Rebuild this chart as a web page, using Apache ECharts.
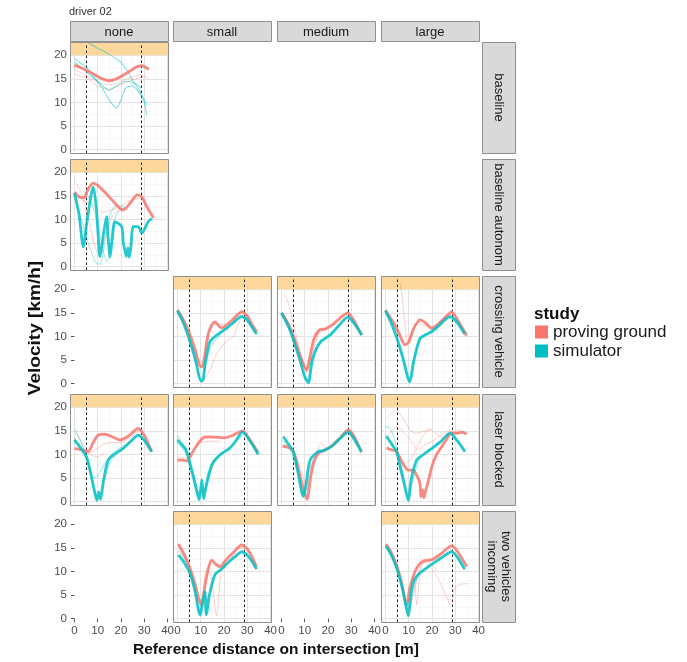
<!DOCTYPE html>
<html>
<head>
<meta charset="utf-8">
<script src="https://cdn.jsdelivr.net/npm/echarts@6/dist/echarts.min.js"></script>
<style>
  html, body { margin: 0; padding: 0; background: #fff; }
  #chart { width: 687px; height: 662px; }
</style>
</head>
<body>
<div id="chart"></div>
<script>
// Facet labels
const colLabels = ['none', 'small', 'medium', 'large'];
const rowLabels = ['baseline', 'baseline autonomous', 'crossing vehicle', 'laser blocked', 'two vehicles\nincoming'];

// Axis breaks
const xMajor = [0, 10, 20, 30, 40];
const xMinor = [5, 15, 25, 35];
const yMajor = [0, 5, 10, 15, 20];
const yMinor = [2.5, 7.5, 12.5, 17.5];
const sectionMarks = [5, 28.5];   // dashed reference positions [m]
const bandFrom = 20;              // highlighted speed band [km/h]

// none / baseline
const nb_pg = [[0,17.9],[3,17.3],[6,16.6],[9,15.8],[12,15.0],[15,14.6],[18,15.0],[21,15.8],[24,16.7],[27,17.6],[29,17.8],[31,17.3],[32,17.0]];
const nb_pg_r1 = [[0,17.0],[4,16.0],[8,14.8],[12,14.0],[16,13.8],[20,14.5],[24,15.2],[28,15.8],[32,15.0]];
const nb_pg_r2 = [[0,16.0],[5,15.2],[10,13.5],[15,12.8],[20,13.8],[25,14.8],[30,15.5]];
const nb_sim_r1 = [[0,19.4],[3,18.2],[6,17.0],[9,15.0],[12,13.0],[15,10.5],[18,8.8],[20,10.5],[22,13.1],[25,13.5],[28,12.0],[30,10.0],[31,7.3]];
const nb_sim_r2 = [[6,22.6],[10,21.5],[14,20.5],[18,19.2],[20,18.5],[23,16.5],[25,14.7],[28,12.5],[30,10.5],[31,9.5]];
const nb_sim_r3 = [[0,18.6],[5,16.5],[10,14.5],[15,12.6],[18,13.5],[22,14.5],[26,14.0],[29,13.0]];

// none / baseline autonomous
const nba_pg = [[0,15.8],[2,14.8],[4,14.6],[6,16.5],[8,17.7],[10,17.2],[13,15.8],[16,14.2],[19,12.6],[21,12.0],[24,13.5],[27,15.2],[29,14.8],[31,12.8],[34,10.3]];
const nba_pg_r1 = [[0,18.3],[3,15.5],[6,10],[9,4],[11,2],[13,6],[16,10.5],[19,12],[22,12.5]];
const nba_pg_r2 = [[0,15],[4,14],[8,13],[12,11.5],[16,12],[20,12.8],[24,14],[28,14.5],[31,12.5],[34,10.5]];
const nba_sim = [[0,15.6],[2,11],[3.8,4.2],[5.5,10],[8.1,16.9],[9.5,12],[11,2.1],[12.5,7],[13.8,10.6],[14.5,6],[15.3,2.1],[16.3,6],[17.4,9.5],[20.3,8.5],[21,5],[21.7,3.5],[22.3,2.2],[23,4],[23.6,2.0],[24.2,4],[25.3,8.5],[27.4,8.5],[28.9,7.1],[31.7,9.5],[33.2,10.2]];
const nba_sim_r1 = [[0,15],[3,10],[6,5],[9,1],[11,0.5],[13,5],[15,10.5],[17,12.5],[20,13],[23,12]];
const nba_sim_r2 = [[4,16],[7,14],[10,9],[12,4],[14,1],[16,7],[18,11],[21,12.5]];

// small / crossing vehicle
const scv_pg = [[0,15.6],[2,14],[4,12],[6,9.5],[8,6.5],[10,3.6],[11,3.8],[12,7],[13.5,11],[16,13.1],[19,11.8],[22,12.8],[25,14.2],[27.5,15.2],[30,14.3],[32,12.5],[34,11.0]];
const scv_pg_r1 = [[0,15.2],[4,11],[8,5],[10,1],[12,1.5],[14,2.9],[17,6.5],[21,8.9],[24,10],[27,13.5],[30,14.5],[33,12],[35,10.8]];
const scv_pg_r2 = [[0,15.8],[3,13.5],[6,10],[9,5],[11,4.5],[13,10],[16,12.8],[20,12.5],[24,13.8],[28,15.5],[31,13.5],[34,11.2]];
const scv_sim = [[0,15.4],[2,13.5],[4,11],[6,8],[8,4.5],[10,0.6],[11,0.8],[12,4.5],[14,8.9],[17,10.3],[21,11.7],[24,12.9],[27.5,14.2],[30,13.5],[32,12],[34,10.5]];
const scv_sim_r1 = [[0,15],[3,12.5],[6,8.5],[9,2.5],[10.5,0.2],[12,3.5],[14,7.5],[18,10.2],[22,12],[27,14.5],[31,12.8],[34,10.3]];

// medium / crossing vehicle
const mcv_pg = [[0,15.0],[2,13.5],[4,11.5],[6,9],[8,6],[10.8,2.9],[12,5],[14,9.5],[16.4,11.4],[19,11.6],[22,12.5],[25,13.8],[28.5,15],[31,13.5],[34.5,10.3]];
const mcv_pg_r1 = [[1,19],[3,17],[5,13],[7,9],[9,5],[11,2.5],[13,5.5],[16,10.5],[20,12]];
const mcv_pg_r2 = [[0,14.5],[4,11],[8,6],[10.5,3],[13,8],[16,11],[20,11.8],[25,13.5],[29,15],[33,11.5]];
const mcv_sim = [[0,15],[2,13.2],[4,11],[6,8],[8,5],[10,1.5],[11.6,0.2],[13,4.5],[14.7,7.1],[17,9],[21,10.3],[25,12.5],[28.5,14.1],[31,13],[34.5,10.3]];
const mcv_sim_r1 = [[0,14.8],[4,10.5],[8,4.5],[11,0.3],[13,3],[15,7],[19,9.8],[24,12],[28,14],[32,12],[34,10.5]];

// large / crossing vehicle
const lcv_pg = [[0,15.6],[2,14],[4,12.5],[6,10.5],[8.4,8.2],[10,8.8],[12,11.5],[14.8,13.5],[17,13],[19.9,11.7],[23,12.8],[26,14.2],[28.4,15.2],[31,13.5],[34.9,10.2]];
const lcv_pg_r1 = [[6.3,21.3],[7.5,17],[8.5,12],[9.5,9],[11,10.5],[13,12.8]];
const lcv_pg_r2 = [[0,15.2],[3,13],[6,10],[8.5,8],[11,10],[14,13],[18,12],[22,12.5],[26,14],[29,15],[32,12.5],[35,10]];
const lcv_sim = [[0,15.4],[2,13.5],[4,11],[6,8],[8,4.5],[9.5,1.5],[10.5,0.4],[12,4.5],[14.8,9.6],[17,10.3],[19.9,11],[23,12.3],[27.7,14.2],[30.5,13.2],[34,10.6]];
const lcv_sim_r1 = [[0,15],[4,10.5],[7,6],[9,2],[10.5,0.2],[12,3],[14,8.5],[18,10.5],[22,12],[27,14],[31,12.5],[34,10.2]];

// none / laser blocked
const nlb_pg = [[0,11.3],[3,11],[5.9,10.6],[8,12.5],[10.2,14.1],[13,14.3],[16,13.8],[19.6,13.1],[23,13.8],[27.4,15.5],[30,14],[33.2,10.6]];
const nlb_pg_r1 = [[0,12.5],[3,12],[6,10.2],[9,11],[12,12],[16,12.5],[20,12.5],[24,13.5],[28,15],[31,13.2],[33,11]];
const nlb_pg_r2 = [[0,14.8],[2,13.5],[4,12],[7,10],[10,9.5],[13,10.5]];
const nlb_sim = [[0,13.1],[2.5,11.5],[5.2,9.5],[7,6],[8.5,2.5],[9.6,0.3],[10.5,2],[11.2,0.5],[12.5,4.5],[14.5,8.8],[17,10],[21,11.3],[24,12.7],[27.4,14.1],[30,13],[33.2,10.6]];
const nlb_sim_r1 = [[0,15.5],[2,13.5],[4.5,10.5],[7,5.5],[9,1.5],[11,1],[13,5],[16,9],[20,10.8],[25,13],[28,14],[31,12.5],[33,10.5]];
const nlb_sim_r2 = [[0,13.5],[3,11],[6,8],[8,5],[10,5.5],[13,8],[17,10.5],[22,12]];

// small / laser blocked
const slb_pg = [[0,8.8],[2,8.8],[4.1,8.6],[6,10],[8.4,12],[10,13],[11.8,13.7],[15,13.7],[20,13.5],[24,14.1],[28,15],[31,13.2],[34.7,10.4]];
const slb_pg_r1 = [[0,9.5],[4,9.2],[7,10.8],[10,12.5],[14,12.8],[18,12.8]];
const slb_sim = [[0,13.1],[2,12],[3.7,11],[6,7],[8,3],[9.3,0.4],[10.5,4.6],[11.3,0.6],[12,2.5],[14.8,7.8],[18,9.8],[22.6,11.4],[25,12.8],[28,14.8],[31,13],[34.7,10]];
const slb_sim_r1 = [[0,14],[3,11.5],[6,6],[8.5,1.5],[10,0.5],[12,3],[14,6.5],[17,9.2],[21,10.8],[26,13.2],[29,14.3],[32,12.2],[34.5,10.2]];
const slb_sim_r2 = [[0,12.5],[4,10],[7,5.5],[9,2],[11,1],[13,6],[16,9],[20,10.5]];

// medium / laser blocked
const mlb_pg = [[0.5,11.7],[3,11.5],[5,10.8],[7,7.5],[9,3.5],[11,0.5],[12.5,5],[14,8.5],[16,10.3],[19,11],[22,12],[25,13.4],[28.7,15.2],[31,14],[34.4,10.5]];
const mlb_pg_r1 = [[0,12],[3,11.8],[6,10],[9,6],[11,2.5],[13,7.5],[15.5,11],[17.3,12.4],[19.5,11.2],[23,12.2],[27,14.2],[30,14.5],[33,11.5]];
const mlb_sim = [[0.8,13.8],[3,12.2],[5.1,10.6],[7,6.5],[9.4,1.1],[10.5,3.5],[12.3,8.8],[15.8,10.6],[18,10.8],[21.6,11.7],[25,13.3],[28.7,14.8],[31,13.5],[34.4,10.6]];
const mlb_sim_r1 = [[0,13.2],[4,10.8],[7,6],[9,2],[10.5,1.5],[12,6.5],[15,9.8],[20,11.2],[25,13.2],[28.5,14.5],[32,12.2],[34,10.3]];

// large / laser blocked
const llb_pg = [[0.5,11.4],[2.5,11],[4.8,10.6],[7,8.5],[9.8,6.7],[12,6.7],[13.5,5.5],[14.8,3.9],[15.3,1],[16,2.5],[16.5,0.8],[17,1.8],[18.5,4.5],[20,7.5],[21.9,9.9],[24,11.5],[26,13],[28.4,14.5],[31,14.5],[33,14.7],[34.9,14.3]];
const llb_pg_r1 = [[0.5,17.5],[2,18.5],[4.8,19.4],[7,18],[9,16.5],[11,15],[13,14.5],[16,14.8],[19,15.3],[22,14.2],[25,13.5],[28.5,14.5],[31,15.2],[34,14.6]];
const llb_pg_r2 = [[0,13.5],[3,15],[5,16],[8,14.5],[11,13],[14,11],[17,12],[21,13],[25,14.4],[28,15],[31,14]];
const llb_pg_r3 = [[5,11],[8,8],[11,9],[14,12],[17,14.5],[20,15.5]];
const llb_sim = [[0.5,13.8],[2.5,12.3],[4.8,10.6],[6.5,7],[8.2,3.5],[9.8,0.3],[11,4.5],[13.4,8.8],[17,10.2],[20,11.3],[23.5,12.6],[27.7,14.5],[31,12.8],[34.2,10.6]];
const llb_sim_r1 = [[0,14.2],[3,12.2],[6,8],[8,4.5],[10,1],[12,5],[15,9.5],[20,11.5],[25,13.3],[28,14.5],[31,12.7],[34,10.5]];
const llb_sim_r2 = [[0,16],[2,15.5],[4,13],[6,9],[8,5]];

// small / two vehicles incoming
const stv_pg = [[0.4,15.8],[3,13.5],[5.4,10.7],[7.5,7.5],[9,4.5],[10.4,2.9],[12,7.5],[13.5,11],[14.7,12.4],[16.5,11.5],[18.3,11],[21,12.5],[24,14],[27.6,15.6],[30.5,14.5],[34,11]];
const stv_pg_r1 = [[0.5,15],[4,12],[7,8],[9.5,3],[11,6],[12.5,10.5],[14.5,9],[15.5,5],[16.8,0.6],[17.8,5],[19,10.5],[22,12],[27,15],[31,13.8],[34,11.2]];
const stv_sim = [[0.4,13.5],[3,11.8],[5.5,9.5],[7.5,6],[9.7,0.8],[10.8,3.5],[11.8,5.7],[12.4,0.8],[13.5,4.5],[16.1,9.3],[19,10.5],[22,12],[25,13.2],[27.6,14.2],[30.5,13.2],[34,10.5]];
const stv_sim_r1 = [[0.5,14.5],[3.5,12],[6,8.5],[8.5,3.5],[10,0.5],[11.5,3],[13,1],[14.5,6.5],[17,9.8],[21,11.5],[27,14],[31,12.8],[34,10.5]];

// large / two vehicles incoming
const ltv_pg = [[0.25,15.8],[2.5,14],[5,11],[7,7.5],[9.1,2.9],[10.5,6.5],[12.7,10],[14.5,11.5],[16.3,12.2],[20,12.5],[24,13.8],[28.4,15.4],[31,14.2],[34.9,11]];
const ltv_pg_r1 = [[9,2],[10.5,5],[12,9],[13.5,3],[14.5,8],[16.3,12.2],[19,11],[22,9],[25,6],[28,3],[29.9,6.5],[32,7.2],[34.9,7.4]];
const ltv_pg_r2 = [[11,3],[13,7],[15,11],[17.5,12],[20,11.5],[22,10]];
const ltv_sim = [[0.25,15.4],[2.5,13.5],[5,10.5],[7,7],[8.5,3.5],[9.8,0.6],[10.8,4.5],[11.9,7.6],[14,9.3],[18.4,11],[22,12.2],[25,13.2],[28.4,14.2],[31,13],[34,10.5]];
const ltv_sim_r1 = [[0.5,15],[3,13],[6,9],[8.5,3],[10,0.3],[11.5,5],[14,9],[18,10.8],[24,13],[28,14],[31,12.7],[34,10.3]];

// Which facet holds which traces: [row, col, proving-ground mean, simulator mean, pg runs, sim runs]
const panels = [
  [0, 0, nb_pg,  null,    [nb_pg_r1, nb_pg_r2], [nb_sim_r1, nb_sim_r2, nb_sim_r3]],
  [1, 0, nba_pg, nba_sim, [nba_pg_r1, nba_pg_r2], [nba_sim_r1, nba_sim_r2]],
  [2, 1, scv_pg, scv_sim, [scv_pg_r1, scv_pg_r2], [scv_sim_r1]],
  [2, 2, mcv_pg, mcv_sim, [mcv_pg_r1, mcv_pg_r2], [mcv_sim_r1]],
  [2, 3, lcv_pg, lcv_sim, [lcv_pg_r1, lcv_pg_r2], [lcv_sim_r1]],
  [3, 0, nlb_pg, nlb_sim, [nlb_pg_r1, nlb_pg_r2], [nlb_sim_r1, nlb_sim_r2]],
  [3, 1, slb_pg, slb_sim, [slb_pg_r1], [slb_sim_r1, slb_sim_r2]],
  [3, 2, mlb_pg, mlb_sim, [mlb_pg_r1], [mlb_sim_r1]],
  [3, 3, llb_pg, llb_sim, [llb_pg_r1, llb_pg_r2, llb_pg_r3], [llb_sim_r1, llb_sim_r2]],
  [4, 1, stv_pg, stv_sim, [stv_pg_r1], [stv_sim_r1]],
  [4, 3, ltv_pg, ltv_sim, [ltv_pg_r1, ltv_pg_r2], [ltv_sim_r1]]
];

const PG = '#F8766D', SIM = '#00BFC4';
const colLeft = [70, 173, 277, 381];
const rowTop = [42, 159, 276, 394, 511];
const PW = 98, PH = 111;
const XMIN = -1.9, XMAX = 40.2, YMIN = -0.7, YMAX = 22.8;
const FONT = '"Liberation Sans", Arial, sans-serif';

const grids = [], xAxes = [], yAxes = [], series = [], graphics = [];
const idx = {};

for (let r = 0; r < 5; r++) {
  for (let c = 0; c < 4; c++) {
    const i = grids.length;
    idx[r + '_' + c] = i;
    grids.push({ left: colLeft[c], top: rowTop[r], width: PW, height: PH, show: false });
    xAxes.push({
      gridIndex: i, type: 'value', min: XMIN, max: XMAX,
      axisLine: { show: false }, splitLine: { show: false },
      axisTick: { show: r === 4, customValues: xMajor, length: 3.5, lineStyle: { color: '#555' } },
      axisLabel: { show: r === 4, customValues: xMajor, color: '#4d4d4d', fontSize: 11.5, margin: 3, fontFamily: FONT }
    });
    yAxes.push({
      gridIndex: i, type: 'value', min: YMIN, max: YMAX,
      axisLine: { show: false }, splitLine: { show: false },
      axisTick: { show: c === 0, customValues: yMajor, length: 3.5, lineStyle: { color: '#555' } },
      axisLabel: { show: c === 0, customValues: yMajor, color: '#4d4d4d', fontSize: 11.5, margin: 3, fontFamily: FONT }
    });
  }
}

const lineMark = (vals, key, color, width) => vals.map(v => ({ [key]: v, lineStyle: { color, width } }));

panels.forEach(([r, c, pg, sim, pgRuns, simRuns]) => {
  const g = idx[r + '_' + c];
  const base = { type: 'line', xAxisIndex: g, yAxisIndex: g, data: [], silent: true, animation: false };
  // panel grid
  series.push(Object.assign({}, base, {
    markLine: {
      z: 1, silent: true, symbol: ['none', 'none'], label: { show: false }, animation: false,
      lineStyle: { type: 'solid' },
      data: [].concat(
        lineMark(xMinor, 'xAxis', '#F2F2F2', 0.6),
        lineMark(yMinor, 'yAxis', '#F2F2F2', 0.6),
        lineMark(xMajor, 'xAxis', '#E4E4E4', 1),
        lineMark(yMajor, 'yAxis', '#E4E4E4', 1)
      )
    }
  }));
  // highlighted band at the top
  series.push(Object.assign({}, base, {
    markArea: {
      z: 2, silent: true, animation: false,
      itemStyle: { color: '#FCD89C', opacity: 1 },
      data: [[{ yAxis: bandFrom }, { yAxis: YMAX }]]
    }
  }));
  // dashed section markers
  series.push(Object.assign({}, base, {
    markLine: {
      z: 3, silent: true, symbol: ['none', 'none'], label: { show: false }, animation: false,
      lineStyle: { type: [2.5, 2.5], color: '#222', width: 1 },
      data: sectionMarks.map(v => ({ xAxis: v }))
    }
  }));
  const addLine = (data, name, color, width, opacity, z) => series.push({
    type: 'line', name, xAxisIndex: g, yAxisIndex: g, data, z,
    showSymbol: false, smooth: 0.25, animation: false, silent: true,
    itemStyle: { color },
    lineStyle: { color, width, opacity }
  });
  pgRuns.forEach(d => addLine(d, 'proving ground', PG, 1, 0.35, 4));
  simRuns.forEach(d => addLine(d, 'simulator', SIM, 1.1, r === 0 ? 0.5 : 0.35, 4));
  if (pg) addLine(pg, 'proving ground', PG, 2.8, 0.85, 5);
  if (sim) addLine(sim, 'simulator', SIM, 2.8, 0.85, 6);

  // panel border
  graphics.push({
    type: 'rect', z: 100, silent: true,
    shape: { x: colLeft[c] + 0.5, y: rowTop[r] + 0.5, width: PW, height: PH },
    style: { fill: 'none', stroke: '#8f8f8f', lineWidth: 1 }
  });
});

// column strips
colLabels.forEach((lab, c) => {
  graphics.push({
    type: 'rect', z: 100, silent: true,
    shape: { x: colLeft[c] + 0.5, y: 21.5, width: PW, height: 20 },
    style: { fill: '#D9D9D9', stroke: '#8f8f8f', lineWidth: 1 }
  });
  graphics.push({
    type: 'text', z: 101, silent: true,
    x: colLeft[c] + PW / 2, y: 32,
    style: { text: lab, fill: '#1a1a1a', font: '13px ' + FONT, align: 'center', verticalAlign: 'middle' }
  });
});

// row strips
rowLabels.forEach((lab, r) => {
  graphics.push({
    type: 'rect', z: 100, silent: true,
    shape: { x: 482.5, y: rowTop[r] + 0.5, width: 33, height: PH },
    style: { fill: '#D9D9D9', stroke: '#8f8f8f', lineWidth: 1 }
  });
  graphics.push({
    type: 'text', z: 101, silent: true,
    x: 499, y: rowTop[r] + PH / 2, rotation: -Math.PI / 2,
    style: {
      text: lab, fill: '#1a1a1a', font: '13px ' + FONT, align: 'center', verticalAlign: 'middle',
      width: PH - 2, overflow: 'truncate', ellipsis: '', lineHeight: 14
    }
  });
});

// titles
graphics.push({
  type: 'text', silent: true, x: 69, y: 12,
  style: { text: 'driver 02', fill: '#333', font: '11px ' + FONT, verticalAlign: 'middle' }
});
graphics.push({
  type: 'text', silent: true, x: 35, y: 328, rotation: Math.PI / 2, scaleX: 1.12,
  style: { text: 'Velocity [km/h]', fill: '#111', font: 'bold 17px ' + FONT, align: 'center', verticalAlign: 'middle' }
});
graphics.push({
  type: 'text', silent: true, x: 276, y: 650,
  style: { text: 'Reference distance on intersection [m]', fill: '#111', font: 'bold 15.5px ' + FONT, align: 'center', verticalAlign: 'middle' }
});
graphics.push({
  type: 'text', silent: true, x: 534, y: 314,
  style: { text: 'study', fill: '#111', font: 'bold 17px ' + FONT, verticalAlign: 'middle' }
});

const chart = echarts.init(document.getElementById('chart'), null, { renderer: 'canvas' });
chart.setOption({
  animation: false,
  backgroundColor: '#fff',
  grid: grids,
  xAxis: xAxes,
  yAxis: yAxes,
  series: series,
  graphic: graphics,
  legend: {
    left: 535, top: 323, orient: 'vertical', itemWidth: 13, itemHeight: 13, itemGap: 1,
    icon: 'rect', selectedMode: false, padding: 0,
    textStyle: { color: '#1a1a1a', fontSize: 17, lineHeight: 18, fontFamily: FONT },
    data: [
      { name: 'proving ground', itemStyle: { color: PG, opacity: 1 } },
      { name: 'simulator', itemStyle: { color: SIM, opacity: 1 } }
    ]
  }
});
</script>
</body>
</html>
